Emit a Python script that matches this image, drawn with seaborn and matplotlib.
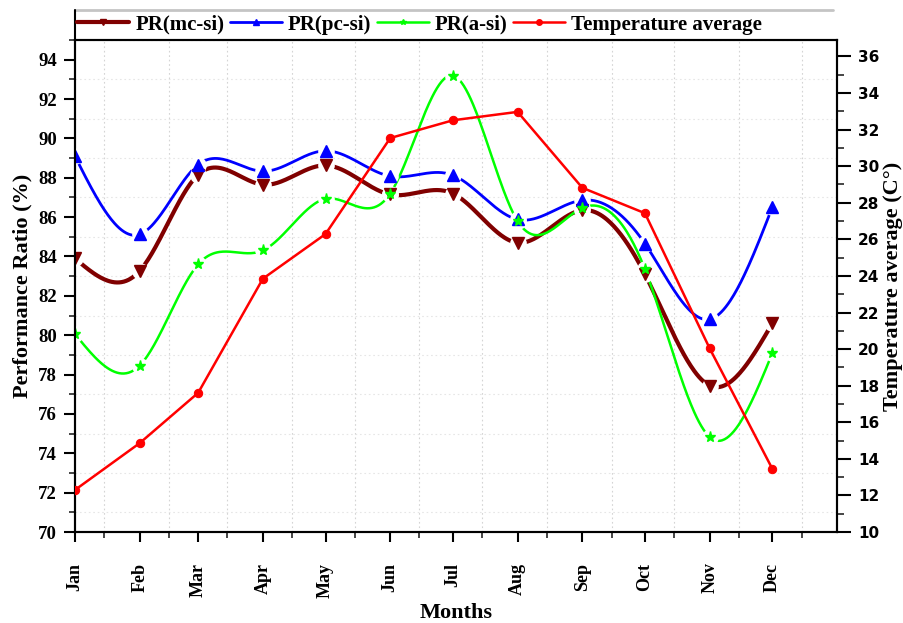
import numpy as np
import pandas as pd
import matplotlib
matplotlib.use("Agg")
import matplotlib.pyplot as plt
import matplotlib.dates as mdates
from matplotlib.lines import Line2D
from matplotlib.ticker import MultipleLocator, FixedLocator
import seaborn as sns

# ---------------- data ----------------
months = ["Jan", "Feb", "Mar", "Apr", "May", "Jun", "Jul", "Aug", "Sep", "Oct", "Nov", "Dec"]
pr_mc_si = [83.9, 83.27, 88.16, 87.65, 88.63, 87.15, 87.2, 84.7, 86.35, 83.1, 77.44, 80.6]
pr_pc_si = [89.09, 85.12, 88.67, 88.33, 89.37, 88.08, 88.13, 85.88, 86.86, 84.65, 80.81, 86.5]
pr_a_si = [80.06, 78.46, 83.6, 84.31, 86.93, 87.2, 93.19, 85.8, 86.47, 83.35, 74.83, 79.08]
temp_avg = [12.3, 14.86, 17.61, 23.85, 26.29, 31.54, 32.51, 32.97, 28.82, 27.43, 20.04, 13.46]

series_names = ["PR(mc-si)", "PR(pc-si)", "PR(a-si)", "Temperature average"]
colors = ["#800000", "#0000FF", "#00FF00", "#FF0000"]

dates = pd.date_range("2021-01-01", periods=len(months), freq="MS")
xnum = mdates.date2num(dates)

df = pd.DataFrame({"date": dates, "month": months,
                   "mc": pr_mc_si, "pc": pr_pc_si, "a": pr_a_si, "temp": temp_avg})


def spline_curve(x, y, n=600):
    """Natural cubic spline through the given points (used only to draw smooth lines)."""
    x = np.asarray(x, float)
    y = np.asarray(y, float)
    h = np.diff(x)
    m = len(x)
    A = np.zeros((m, m))
    r = np.zeros(m)
    A[0, 0] = A[-1, -1] = 1.0
    for i in range(1, m - 1):
        A[i, i - 1] = h[i - 1]
        A[i, i] = 2 * (h[i - 1] + h[i])
        A[i, i + 1] = h[i]
        r[i] = 6 * ((y[i + 1] - y[i]) / h[i] - (y[i] - y[i - 1]) / h[i - 1])
    M = np.linalg.solve(A, r)
    xs = np.linspace(x[0], x[-1], n)
    idx = np.clip(np.searchsorted(x, xs) - 1, 0, m - 2)
    x0, x1 = x[idx], x[idx + 1]
    hh = x1 - x0
    t0, t1 = x1 - xs, xs - x0
    ys = (M[idx] * t0 ** 3 / (6 * hh) + M[idx + 1] * t1 ** 3 / (6 * hh)
          + (y[idx] / hh - M[idx] * hh / 6) * t0 + (y[idx + 1] / hh - M[idx + 1] * hh / 6) * t1)
    return xs, ys


sns.set_theme(style="ticks")
plt.rcParams["font.family"] = ["Liberation Serif", "DejaVu Serif"]
plt.rcParams["font.weight"] = "bold"
plt.rcParams["text.color"] = "black"
plt.rcParams["axes.labelcolor"] = "black"
plt.rcParams["axes.labelweight"] = "bold"

fig = plt.figure(figsize=(9.04, 6.23), dpi=100)
ax = fig.add_axes([75 / 904, (623 - 532) / 623, (837 - 75) / 904, (532 - 40) / 623])
ax2 = ax.twinx()

# ---------------- PR series (smooth) ----------------
pr_specs = [("mc", "v", 3.0, 8), ("pc", "^", 2.0, 8), ("a", "*", 1.8, 8)]
for (col, mk, lw, ms), name, c in zip(pr_specs, series_names[:3], colors[:3]):
    xs, ys = spline_curve(xnum, df[col].values)
    sm = pd.DataFrame({"x": mdates.num2date(xs), "y": ys})
    sns.lineplot(data=sm, x="x", y="y", ax=ax, color=c, lw=lw, zorder=2, legend=False)
    ax.plot(df["date"], df[col], ls="none", marker="o", ms=12, color="white", mec="none", zorder=3)
    ax.plot(df["date"], df[col], ls="none", marker=mk, ms=ms, color=c, mec=c, zorder=4)

# ---------------- temperature ----------------
sns.lineplot(data=df, x="date", y="temp", ax=ax2, color=colors[3], lw=1.8,
             marker="o", markersize=6, markeredgecolor=colors[3], legend=False, zorder=5)

# ---------------- axes setup ----------------
ax.set_xlim(pd.Timestamp("2021-01-01"), pd.Timestamp("2022-01-01"))
ax.set_ylim(70, 95)
ax2.set_ylim(10, 36.9)

ax.xaxis.set_major_locator(FixedLocator(xnum))
ax.xaxis.set_major_formatter(mdates.DateFormatter("%b"))
ax.xaxis.set_minor_locator(mdates.MonthLocator(bymonthday=15))
ax.yaxis.set_major_locator(MultipleLocator(2))
ax.yaxis.set_minor_locator(MultipleLocator(1))
ax2.yaxis.set_major_locator(MultipleLocator(2))
ax2.yaxis.set_minor_locator(MultipleLocator(1))

ax.grid(which="minor", axis="x", color="#d4d4d4", ls=(0, (1.5, 2.5)), lw=0.8)
ax.grid(which="minor", axis="y", color="#e6e6e6", ls=(0, (1.5, 2.5)), lw=0.8)
ax.grid(which="major", visible=False)
ax2.grid(False)

for a in (ax, ax2):
    for s in a.spines.values():
        s.set_color("black")
        s.set_linewidth(1.5)
    a.set_facecolor("none")

ax.tick_params(axis="x", which="major", direction="out", length=7, width=1.5, pad=15,
               labelsize=13, colors="black", rotation=90)
ax.tick_params(axis="x", which="minor", direction="out", length=4, width=1.2)
ax.tick_params(axis="y", which="major", direction="out", length=8, width=1.5, pad=5,
               labelsize=13.5, colors="black")
ax.tick_params(axis="y", which="minor", direction="out", length=4, width=1.2)
ax2.tick_params(axis="y", which="major", direction="out", length=10, width=1.5, pad=5,
                labelsize=11, colors="black")
ax2.tick_params(axis="y", which="minor", direction="out", length=5, width=1.2)

for lab in ax.get_xticklabels():
    lab.set_fontweight("bold")
    lab.set_verticalalignment("top")
for lab in ax.get_yticklabels():
    lab.set_fontweight("bold")
for lab in ax2.get_yticklabels():
    lab.set_family("DejaVu Sans")
    lab.set_fontweight("bold")

ax.set_xlabel("Months", fontsize=16, fontweight="bold", labelpad=4)
ax.set_ylabel("Performance Ratio (%)", fontsize=16, fontweight="bold", labelpad=4)
ax2.set_ylabel("Temperature average (C°)", fontsize=16, fontweight="bold", labelpad=3)

# ---------------- legend ----------------
markers = ["v", "^", "*", "o"]
lws = [3.0, 2.0, 1.8, 1.8]
handles = [Line2D([], [], color=c, lw=w, marker=m, ms=4) for c, w, m in zip(colors, lws, markers)]
leg = ax.legend(handles, series_names, ncol=4, loc="center left", bbox_to_anchor=(0.0, 1.031),
                frameon=False, borderaxespad=0, borderpad=0.1, handlelength=2.5,
                handletextpad=0.3, columnspacing=0.25,
                prop={"family": "Liberation Serif", "weight": "bold", "size": 15})
for t in leg.get_texts():
    t.set_color("black")
ax.add_line(Line2D([0, 0.995], [1.061, 1.061], transform=ax.transAxes, color="#c4c4c4",
                   lw=2, clip_on=False))
ax.add_line(Line2D([0, 0], [1.0, 1.061], transform=ax.transAxes, color="black",
                   lw=1.5, clip_on=False))

fig.savefig("out.png", dpi=100)
